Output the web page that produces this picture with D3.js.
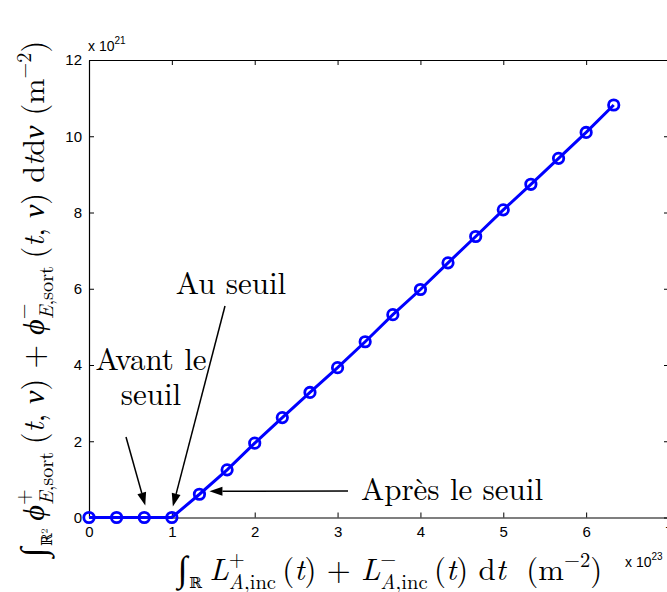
<!DOCTYPE html>
<html><head><meta charset="utf-8">
<script src="https://cdn.jsdelivr.net/npm/d3@7"></script>
<style>html,body{margin:0;padding:0;background:#fff;}svg{display:block;}</style>
</head><body>
<script>
const xValues = [0, 0.333, 0.667, 1.0, 1.333, 1.667, 2.0, 2.333, 2.667, 3.0, 3.333, 3.667, 4.0, 4.333, 4.667, 5.0, 5.333, 5.667, 6.0, 6.333];
const yValues = [0, 0, 0, 0, 0.61, 1.25, 1.95, 2.62, 3.28, 3.93, 4.61, 5.32, 5.98, 6.68, 7.37, 8.07, 8.74, 9.42, 10.10, 10.82];
const xTicks = [0, 1, 2, 3, 4, 5, 6, 7];
const yTicks = [0, 2, 4, 6, 8, 10, 12];
const xExponent = "23";
const yExponent = "21";

const W = 667, H = 592;
const m = {left: 89, top: 60, right: 669, bottom: 517.5};
const svg = d3.select("body").append("svg").attr("width", W).attr("height", H);
const x = d3.scaleLinear().domain([0, 7]).range([m.left, m.right]);
const y = d3.scaleLinear().domain([0, 12]).range([m.bottom, m.top]);

const tickFont = "'Liberation Sans', Arial, sans-serif";
const serif = "'Latin Modern Roman','CMU Serif','Liberation Serif','DejaVu Serif',serif";

// axes (box with inward ticks)
const axB = svg.append("g").attr("transform", `translate(0,${m.bottom})`)
  .call(d3.axisBottom(x).tickValues(xTicks).tickSizeInner(-5).tickSizeOuter(0).tickPadding(10).tickFormat(d3.format("d")));
const axT = svg.append("g").attr("transform", `translate(0,${m.top})`)
  .call(d3.axisTop(x).tickValues(xTicks).tickSizeInner(-5).tickSizeOuter(0).tickFormat(""));
const axL = svg.append("g").attr("transform", `translate(${m.left},0)`)
  .call(d3.axisLeft(y).tickValues(yTicks).tickSizeInner(-5).tickSizeOuter(0).tickPadding(7).tickFormat(d3.format("d")));
const axR = svg.append("g").attr("transform", `translate(${m.right},0)`)
  .call(d3.axisRight(y).tickValues(yTicks).tickSizeInner(-5).tickSizeOuter(0).tickFormat(""));
[axB, axT, axL, axR].forEach(a => {
  a.selectAll("path.domain").attr("stroke", "#000").attr("stroke-width", 1.2);
  a.selectAll("line").attr("stroke", "#000").attr("stroke-width", 1);
  a.selectAll("text").attr("font-family", tickFont).attr("font-size", 15).attr("fill", "#000");
});
axB.selectAll("text").attr("dy", "0.62em");

// exponent labels
function expo(xp, yp, base, e) {
  const t = svg.append("text").attr("x", xp).attr("y", yp).attr("font-family", tickFont).attr("font-size", 14);
  t.append("tspan").text(base);
  t.append("tspan").attr("dy", -7).attr("font-size", 10).text(e);
}
expo(m.left - 1, 51, "x 10", yExponent);
expo(625, 567, "x 10", xExponent);

// data line + markers
const pts = xValues.map((v, i) => [v, yValues[i]]);
svg.append("path").datum(pts)
  .attr("d", d3.line().x(d => x(d[0])).y(d => y(d[1])))
  .attr("fill", "none").attr("stroke", "#0000ff").attr("stroke-width", 3);
svg.selectAll("circle.mk").data(pts).join("circle").attr("class", "mk")
  .attr("cx", d => x(d[0])).attr("cy", d => y(d[1])).attr("r", 5.2)
  .attr("fill", "none").attr("stroke", "#0000ff").attr("stroke-width", 2.8);

// math label builder: pieces placed sequentially, measuring widths
function mathLabel(g, pieces, baseSize) {
  let cx = 0;
  const k = baseSize / 24;
  pieces.forEach(p => {
    if (p.stack) {
      const start = cx;
      let maxW = 0;
      p.stack.forEach(s => {
        const t = g.append("text").attr("x", start).attr("y", (s.dy || 0) * k)
          .attr("font-family", serif).attr("font-size", (s.size || 24) * k);
        s.parts.forEach(pp => t.append("tspan").attr("font-style", pp.it ? "italic" : "normal").text(pp.t));
        maxW = Math.max(maxW, t.node().getComputedTextLength());
      });
      cx = start + maxW + (p.after || 0) * k;
    } else {
      const t = g.append("text").attr("x", cx).attr("y", (p.dy || 0) * k)
        .attr("font-family", serif).attr("font-size", (p.size || 24) * k)
        .attr("font-style", p.it ? "italic" : "normal").style("white-space", "pre").text(p.t);
      cx += t.node().getComputedTextLength() + (p.after || 0) * k;
    }
  });
  return cx;
}

// x label
const gx = svg.append("g");
const xw = mathLabel(gx, [
  {t: "∫", size: 28, dy: 1, after: 1},
  {t: "ℝ", size: 12, dy: 6, after: 6},
  {t: "L", it: true},
  {stack: [{parts: [{t: "+"}], size: 16, dy: -11}, {parts: [{t: "A", it: true}, {t: ",inc"}], size: 16, dy: 7}], after: 5},
  {t: "("}, {t: "t", it: true}, {t: ")"},
  {t: " + "},
  {t: "L", it: true},
  {stack: [{parts: [{t: "−"}], size: 16, dy: -11}, {parts: [{t: "A", it: true}, {t: ",inc"}], size: 16, dy: 7}], after: 5},
  {t: "("}, {t: "t", it: true}, {t: ") d"}, {t: "t", it: true}, {t: "  (m"},
  {t: "−2", size: 16, dy: -10}, {t: ")"}
], 30.8);
gx.attr("transform", `translate(${390 - xw / 2},580)`);

// y label (rotated)
const gy = svg.append("g");
const yw = mathLabel(gy, [
  {t: "∫", size: 28, dy: 1, after: 1},
  {t: "ℝ²", size: 12, dy: 6, after: 6},
  {t: "ϕ", it: true},
  {stack: [{parts: [{t: "+"}], size: 16, dy: -11}, {parts: [{t: "E", it: true}, {t: ",sort"}], size: 16, dy: 7}], after: 6},
  {t: "("}, {t: "t", it: true}, {t: ", "}, {t: "ν", it: true}, {t: ") + "},
  {t: "ϕ", it: true},
  {stack: [{parts: [{t: "−"}], size: 16, dy: -11}, {parts: [{t: "E", it: true}, {t: ",sort"}], size: 16, dy: 7}], after: 6},
  {t: "("}, {t: "t", it: true}, {t: ", "}, {t: "ν", it: true}, {t: ") d"}, {t: "t", it: true}, {t: "d"}, {t: "ν", it: true},
  {t: " (m"}, {t: "−2", size: 16, dy: -10}, {t: ")"}
], 30.3);
gy.attr("transform", `translate(44,${299 + yw / 2}) rotate(-90)`);

// annotations
function annot(lines, xp, yp, anchor) {
  const t = svg.append("text").attr("font-family", serif).attr("font-size", 31).attr("text-anchor", anchor);
  lines.forEach((l, i) => t.append("tspan").attr("x", xp).attr("y", yp + i * 35).text(l));
}
annot(["Au seuil"], 231, 294, "middle");
annot(["Avant le", "seuil"], 151, 370, "middle");
annot(["Après le seuil"], 452, 500, "middle");

function arrow(x1, y1, x2, y2) {
  const ang = Math.atan2(y2 - y1, x2 - x1), L = 13, Wd = 4.5;
  const bx = x2 - L * Math.cos(ang), by = y2 - L * Math.sin(ang);
  svg.append("line").attr("x1", x1).attr("y1", y1).attr("x2", bx).attr("y2", by)
    .attr("stroke", "#000").attr("stroke-width", 1.5);
  const px = -Math.sin(ang) * Wd, py = Math.cos(ang) * Wd;
  svg.append("path").attr("d", `M${x2},${y2}L${bx + px},${by + py}L${bx - px},${by - py}Z`).attr("fill", "#000");
}
arrow(225, 306, x(1) + 1, y(0) - 11);
arrow(126, 437, x(0.667) + 1, y(0) - 12);
arrow(348, 491, x(1.333) + 10, y(0.61) - 3);
</script>
</body></html>
